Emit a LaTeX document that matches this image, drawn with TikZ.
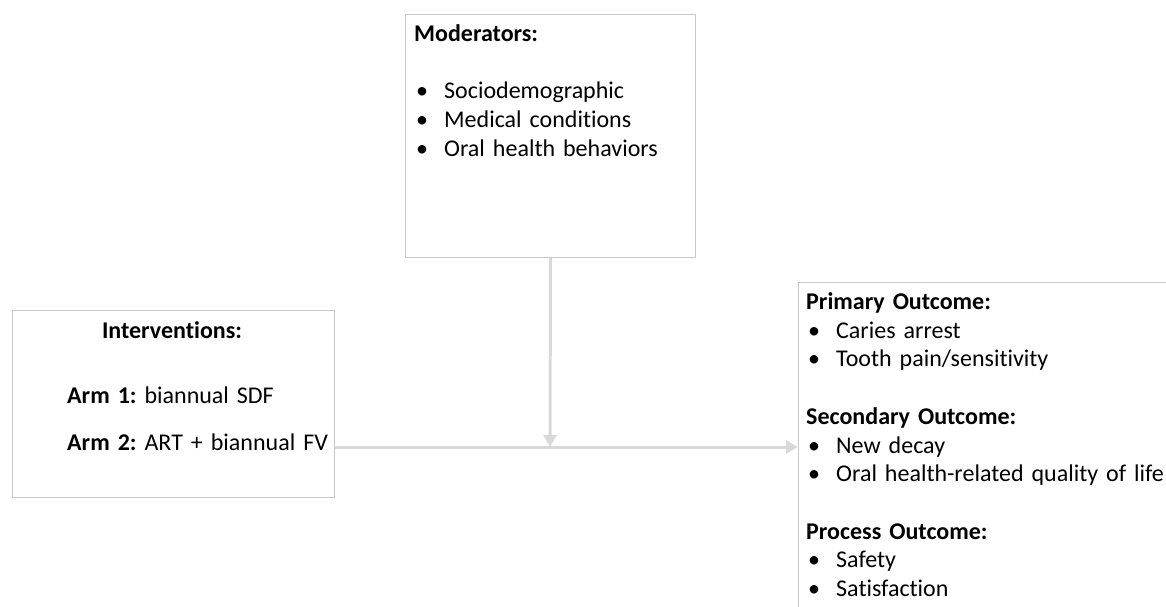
\documentclass[tikz,border=0pt]{standalone}
\usepackage{fontspec}
\setmainfont{Carlito}[Ligatures=NoCommon]
\usetikzlibrary{arrows.meta}
\definecolor{boxgray}{RGB}{200,200,200}
\definecolor{flowgray}{RGB}{217,217,217}
\newcommand\bul{\makebox[30pt][l]{\hspace{2pt}\textbullet}}
\tikzset{
  panel/.style={draw=boxgray, line width=1pt, anchor=north west, inner sep=0pt},
  txt/.style={anchor=base west, inner sep=0pt, text width=420pt, align=left,
    font=\fontsize{24}{28.7}\selectfont\frenchspacing},
  flow/.style={draw=flowgray, line width=3pt, -{Triangle[length=12pt,width=13pt]}}
}

\begin{document}
\begin{tikzpicture}[x=1pt, y=-1pt]
\useasboundingbox (0,0) rectangle (1166,607);
\clip (0,0) rectangle (1166,607);
% boxes
\node[panel, minimum width=290pt, minimum height=243pt] (moder) at (405,14) {};
\node[panel, minimum width=322pt, minimum height=187pt] (interv) at (12,310) {};
\node[panel, minimum width=420pt, minimum height=360pt] (outc) at (798,282) {};
% texts
\node[txt] (modtxt) at (414,41.5) {\textbf{Moderators:}\\[28.7pt]
  \bul Sociodemographic\\
  \bul Medical conditions\\
  \bul Oral health behaviors};
\node[anchor=base, inner sep=0pt, font=\fontsize{24}{28.7}\selectfont] (intitle) at (172,338) {\textbf{Interventions:}};
\node[txt] (arm1) at (67,403) {\textbf{Arm 1:} biannual SDF};
\node[txt] (arm2) at (67,450) {\textbf{Arm 2:} ART + biannual FV};
\node[txt] (outtxt) at (806,309.5) {\textbf{Primary Outcome:}\\
  \bul Caries arrest\\
  \bul Tooth pain/sensitivity\\[28.7pt]
  \textbf{Secondary Outcome:}\\
  \bul New decay\\
  \bul Oral health-related quality of life\\[28.7pt]
  \textbf{Process Outcome:}\\
  \bul Safety\\
  \bul Satisfaction};
% arrows
\coordinate (join) at (550,447);
\draw[flow] (interv.east |- join) -- (outc.west |- join);
\draw[flow] (moder.south) -- (join);
\end{tikzpicture}
\end{document}
